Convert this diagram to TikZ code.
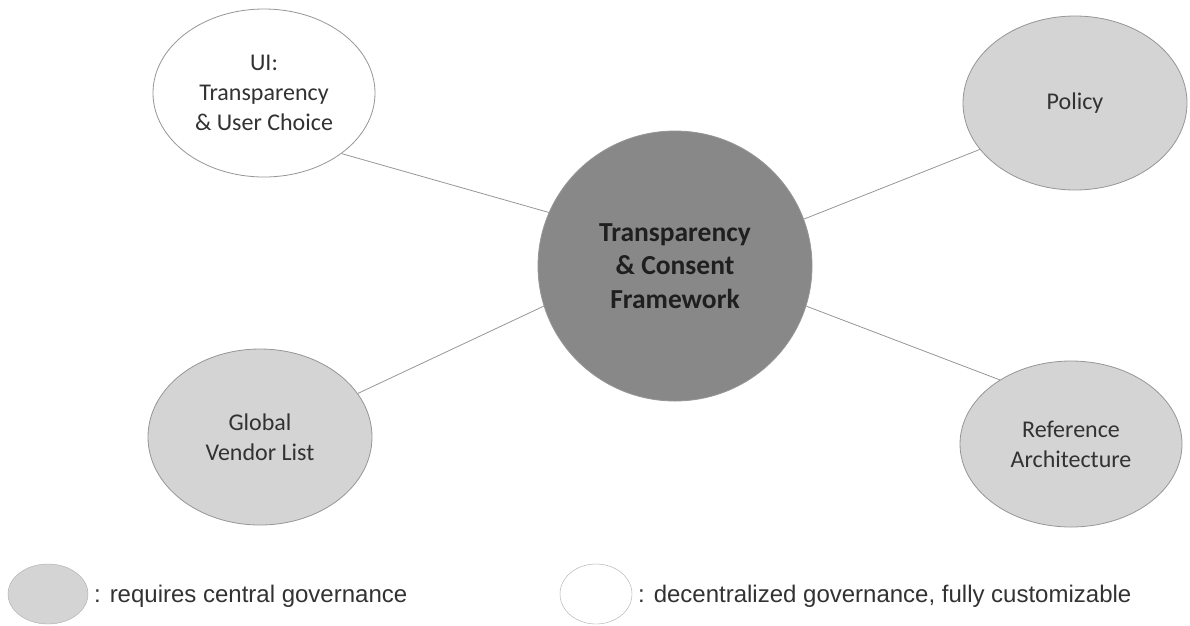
\documentclass[tikz,border=0pt]{standalone}
\usepackage{fontspec}
\setmainfont{Carlito}
\newfontfamily\legendfont{Liberation Sans}
\usetikzlibrary{shapes.geometric}
\definecolor{hubfill}{RGB}{136,136,136}
\definecolor{partfill}{RGB}{212,212,212}
\definecolor{edgegray}{RGB}{150,150,150}
\definecolor{txt}{RGB}{50,50,50}
\tikzset{
  blob/.style={ellipse, draw=edgegray, line width=0.8pt, inner sep=0pt, align=center,
    font=\fontsize{24}{30}\selectfont, text=txt},
  central/.style={blob, fill=partfill},
  decentral/.style={blob, fill=white},
  hub/.style={blob, fill=hubfill, font=\fontsize{27.5}{33.5}\selectfont\bfseries, text=black!88},
  link/.style={draw=edgegray, line width=0.8pt},
  legendtext/.style={anchor=west, font=\legendfont\fontsize{24}{28}\selectfont, text=txt, inner sep=0pt}
}
\begin{document}
\begin{tikzpicture}[x=1pt,y=-1pt]
\useasboundingbox (0,0) rectangle (1190,625);
\node[hub, minimum width=274pt, minimum height=270pt] (tcf) at (675,266) {Transparency\\ \& Consent\\ Framework};
\node[decentral, minimum width=222pt, minimum height=168pt] (ui) at (264,93) {UI:\\ Transparency\\ \& User Choice};
\node[central, minimum width=224pt, minimum height=174pt] (policy) at (1075,103) {Policy};
\node[central, minimum width=224pt, minimum height=176pt] (gvl) at (260,437) {Global\\ Vendor List};
\node[central, minimum width=222pt, minimum height=166pt] (ref) at (1071,444) {Reference\\ Architecture};
\draw[link] (ui.-38) -- (tcf.157);
\draw[link] (tcf.20.6) -- (policy.206);
\draw[link] (tcf.197.6) -- (gvl.24);
\draw[link] (tcf.-17.5) -- (ref.138);
\node[ellipse, draw=edgegray!80, fill=partfill, minimum width=80pt, minimum height=60pt, inner sep=0pt] (legc) at (48,594) {};
\node[legendtext] (legct) at (94,596) {: requires central governance};
\node[ellipse, draw=edgegray!80, fill=white, minimum width=72pt, minimum height=60pt, inner sep=0pt] (legd) at (596,594) {};
\node[legendtext] (legdt) at (638,596) {: decentralized governance, fully customizable};
\end{tikzpicture}
\end{document}
